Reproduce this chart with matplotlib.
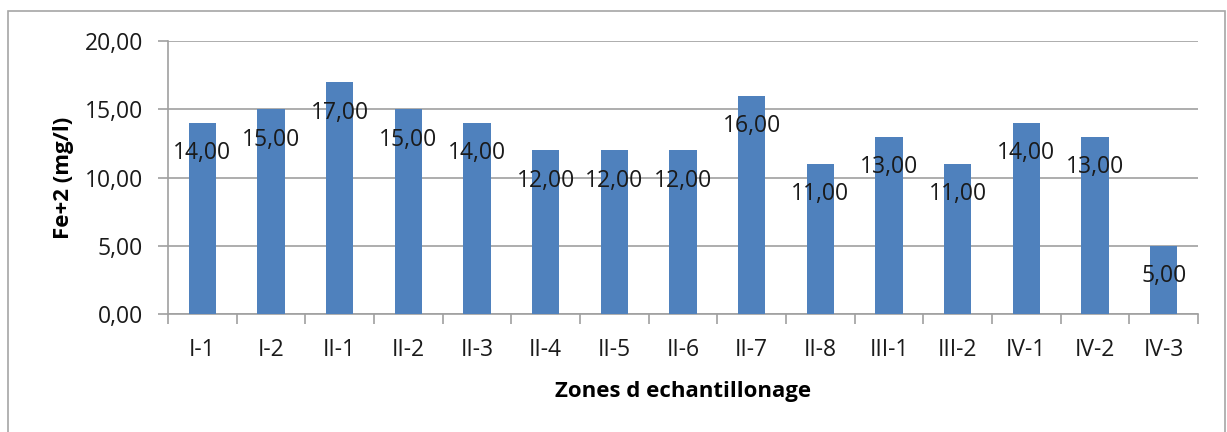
import matplotlib
matplotlib.use("Agg")
import matplotlib.pyplot as plt
from matplotlib.patches import Rectangle
import numpy as np

zones = ["I-1", "I-2", "II-1", "II-2", "II-3", "II-4", "II-5", "II-6", "II-7",
         "II-8", "III-1", "III-2", "IV-1", "IV-2", "IV-3"]
fe2 = [14.0, 15.0, 17.0, 15.0, 14.0, 12.0, 12.0, 12.0, 16.0,
       11.0, 13.0, 11.0, 14.0, 13.0, 5.0]
y_ticks = [0, 5, 10, 15, 20]

plt.rcParams["font.family"] = ["Open Sans", "DejaVu Sans"]

fig = plt.figure(figsize=(12.27, 4.32), dpi=100)
fig.patch.set_facecolor("white")
fig.patches.append(Rectangle((8 / 1227, -0.01), 1217 / 1227, (432 - 11) / 432 + 0.01,
                             transform=fig.transFigure, fill=False,
                             edgecolor="#a6a6a6", linewidth=1.2))

ax = fig.add_axes([168 / 1227, 1 - 314 / 432, (1198 - 168) / 1227, (314 - 41) / 432])
x = np.arange(len(zones))
ax.bar(x, fe2, width=0.4, color="#4F81BD", zorder=3)

for xi, v in zip(x, fe2):
    ax.annotate(f"{v:.2f}".replace(".", ","), (xi, v), xytext=(0, -22),
                textcoords="offset points", ha="center", va="center",
                fontsize=16.5, color="#1a1a1a", zorder=4)

ax.set_xlim(-0.5, len(zones) - 0.5)
ax.set_ylim(0, 20)
ax.set_yticks(y_ticks)
ax.set_yticklabels([f"{t:.2f}".replace(".", ",") for t in y_ticks], fontsize=16.5)
ax.set_xticks(x)
ax.set_xticklabels(zones, fontsize=16.5)
ax.set_xticks(np.arange(-0.5, len(zones)), minor=True)
ax.tick_params(axis="x", which="major", length=0, pad=17, colors="#1a1a1a")
ax.tick_params(axis="x", which="minor", length=7, width=1.2, color="#a0a0a0")
ax.tick_params(axis="y", length=7, width=1.2, color="#a0a0a0", pad=11, colors="#1a1a1a")
ax.tick_params(axis="y", color="#a0a0a0")

ax.grid(axis="y", color="#a0a0a0", linewidth=1.2, zorder=0)
for side in ("top", "right"):
    ax.spines[side].set_visible(False)
for side in ("left", "bottom"):
    ax.spines[side].set_color("#a0a0a0")
    ax.spines[side].set_linewidth(1.2)

ax.set_ylabel("Fe+2 (mg/l)", fontsize=16, fontweight="bold", labelpad=8)
ax.set_xlabel("Zones d echantillonage", fontsize=16, fontweight="bold", labelpad=14)

fig.savefig("out.png", dpi=100)
